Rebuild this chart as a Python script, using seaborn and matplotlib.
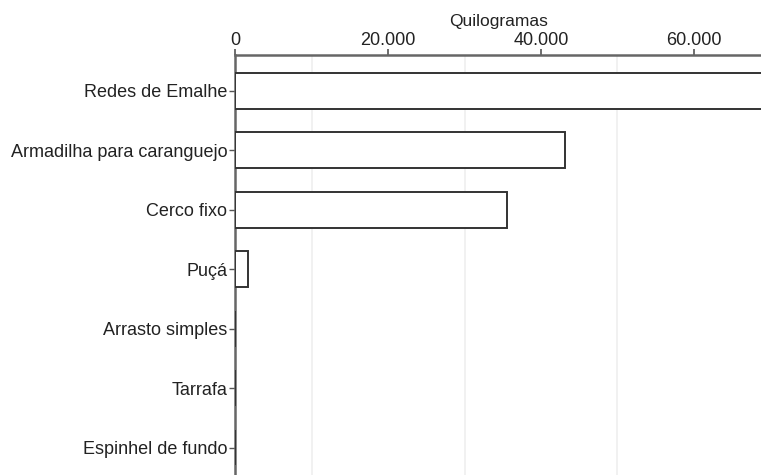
import matplotlib
matplotlib.use("Agg")
import matplotlib.pyplot as plt
import matplotlib.ticker as mticker
import seaborn as sns
import pandas as pd

categories = ["Redes de Emalhe", "Armadilha para caranguejo", "Cerco fixo", "Puçá",
              "Arrasto simples", "Tarrafa", "Espinhel de fundo"]
kilograms = [72000, 43200, 35600, 1700, 0, 0, 0]
major_ticks = [0, 20000, 40000, 60000]
grid_ticks = [10000, 30000, 50000]
x_label = "Quilogramas"

sns.set_theme(style="white")
plt.rcParams["font.family"] = ["Liberation Sans", "DejaVu Sans"]

df = pd.DataFrame({"Arte": categories, "kg": kilograms})

fig = plt.figure(figsize=(7.61, 4.75), dpi=100)
ax = fig.add_axes([235.5 / 761, 0, 1 - 235.5 / 761, 420 / 475])

sns.barplot(data=df, x="kg", y="Arte", orient="h", color="white",
            edgecolor="#333333", linewidth=1.4, width=0.6, ax=ax, zorder=3)

ax.set_xlim(0, 68800)
ax.set_ylim(6.46, -0.6)

ax.xaxis.set_ticks_position("top")
ax.xaxis.set_label_position("top")
ax.set_xticks(major_ticks)
ax.set_xticks(grid_ticks, minor=True)
ax.xaxis.set_major_formatter(mticker.FuncFormatter(lambda v, p: f"{int(v):,}".replace(",", ".")))
ax.grid(False)
ax.grid(True, which="minor", axis="x", color="#efefef", linewidth=1.2, zorder=0)
ax.tick_params(axis="x", which="major", direction="out", length=4, width=1.2,
               color="#555555", labelsize=13, labelcolor="#222222", pad=0.5)
ax.tick_params(axis="x", which="minor", length=0)
ax.tick_params(axis="y", direction="out", length=4, width=1, color="#555555",
               labelsize=13, labelcolor="#222222", pad=2, left=True)

ax.set_xlabel(x_label, fontsize=12.5, color="#222222", labelpad=4)
ax.set_ylabel("")

for s in ["right", "bottom"]:
    ax.spines[s].set_visible(False)
for s in ["top", "left"]:
    ax.spines[s].set_visible(True)
    ax.spines[s].set_color("#666666")
    ax.spines[s].set_linewidth(1.8)

fig.savefig("out.png", dpi=100)
